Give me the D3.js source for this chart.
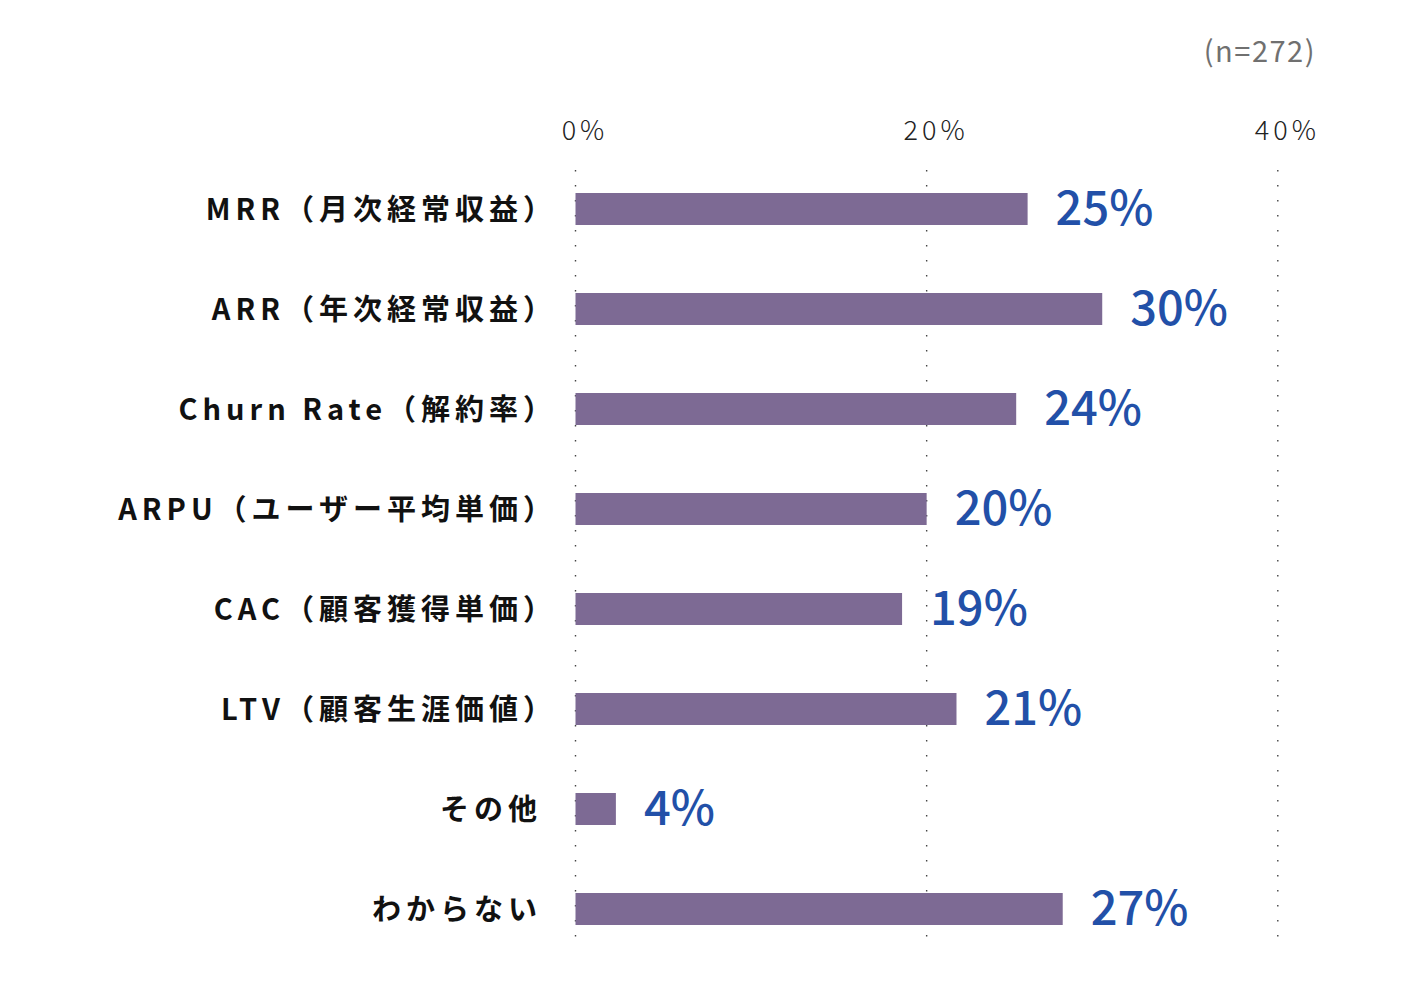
<!DOCTYPE html>
<html>
<head>
<meta charset="utf-8">
<script src="https://cdn.jsdelivr.net/npm/d3@7"></script>
<style>
  body { margin: 0; background: #fff; }
  svg text { font-family: "Noto Sans CJK JP", "Noto Sans", sans-serif; }
</style>
</head>
<body>
<div id="chart"></div>
<script>
// data
const categories = [
    "MRR（月次経常収益）",
    "ARR（年次経常収益）",
    "Churn Rate（解約率）",
    "ARPU（ユーザー平均単価）",
    "CAC（顧客獲得単価）",
    "LTV（顧客生涯価値）",
    "その他",
    "わからない"
];
// bar lengths as drawn (percent)
const values = [25.75, 30.0, 25.1, 20.0, 18.6, 21.7, 2.3, 27.75];
// printed value labels
const valueLabels = ["25%", "30%", "24%", "20%", "19%", "21%", "4%", "27%"];
const tickValues = [0, 20, 40];
const sampleNote = "(n=272)";

const width = 1410;
const height = 994;

const svg = d3.select("#chart")
    .append("svg")
    .attr("width", width)
    .attr("height", height);

// scales
const x = d3.scaleLinear()
    .domain([0, 40])
    .range([575.5, 1277.8]);

const y = d3.scaleBand()
    .domain(categories)
    .range([159, 959])
    .paddingInner(0.68)
    .paddingOuter(0.34);

// dotted grid lines
svg.append("g")
    .selectAll("line")
    .data(tickValues)
    .enter().append("line")
    .attr("x1", d => x(d))
    .attr("x2", d => x(d))
    .attr("y1", 170)
    .attr("y2", 941)
    .attr("stroke", "#444")
    .attr("stroke-width", 1.4)
    .attr("stroke-dasharray", "1.4,13.6");

// top axis labels
const axis = svg.append("g")
    .attr("transform", "translate(0,140)")
    .call(d3.axisTop(x).tickValues(tickValues).tickFormat(d => d + "%").tickSize(0).tickPadding(0));
axis.select(".domain").remove();
axis.selectAll("text")
    .attr("dx", 9)
    .attr("dy", 0)
    .attr("fill", "#222")
    .style("font-size", "27px")
    .style("font-weight", 300)
    .style("letter-spacing", "4px");

// bars
svg.selectAll(".bar")
    .data(values)
    .enter().append("rect")
    .attr("class", "bar")
    .attr("x", x(0))
    .attr("y", (d, i) => y(categories[i]))
    .attr("width", d => x(d) - x(0))
    .attr("height", y.bandwidth())
    .attr("fill", "#7d6a94");

// category labels (full-width closing paren has blank space on its right)
svg.selectAll(".cat")
    .data(categories)
    .enter().append("text")
    .attr("class", "cat")
    .attr("x", d => d.endsWith("）") ? 557 : 542)
    .attr("y", d => y(d) + y.bandwidth() / 2 + 11)
    .attr("text-anchor", "end")
    .attr("fill", "#111")
    .style("font-size", "29px")
    .style("font-weight", 700)
    .style("letter-spacing", "5px")
    .text(d => d);

// value labels
svg.selectAll(".val")
    .data(values)
    .enter().append("text")
    .attr("class", "val")
    .attr("x", d => x(d) + 28)
    .attr("y", (d, i) => y(categories[i]) + y.bandwidth() / 2 + 16)
    .attr("fill", "#2250a8")
    .style("font-size", "47px")
    .style("font-weight", 500)
    .text((d, i) => valueLabels[i]);

// sample size note
svg.append("text")
    .attr("x", 1316)
    .attr("y", 62)
    .attr("text-anchor", "end")
    .attr("fill", "#707070")
    .style("font-size", "29px")
    .style("letter-spacing", "1.5px")
    .text(sampleNote);
</script>
</body>
</html>
